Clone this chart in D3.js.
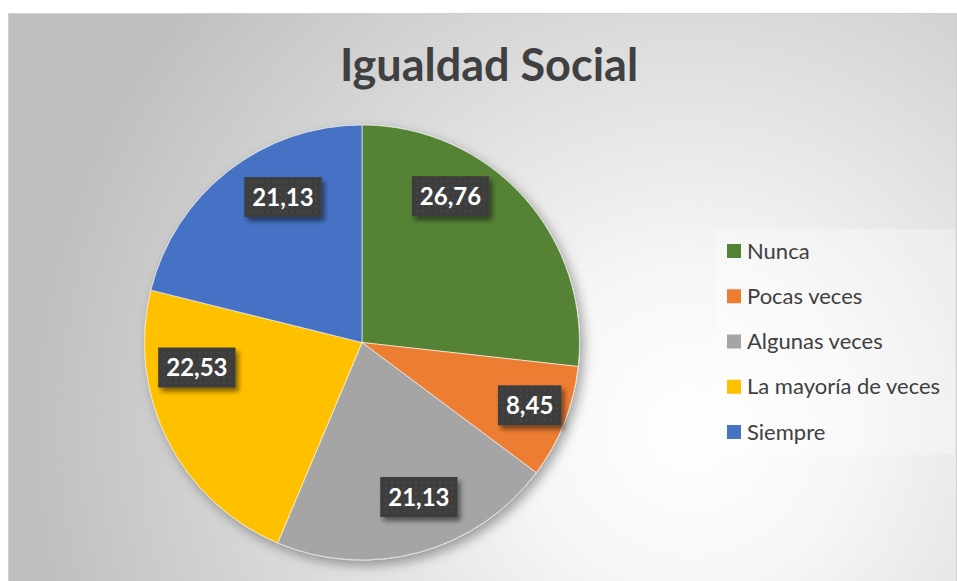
<!DOCTYPE html>
<html><head><meta charset="utf-8">
<script src="https://cdn.jsdelivr.net/npm/d3@7"></script>
<style>html,body{margin:0;padding:0;background:#fff;}svg{display:block;}</style>
</head><body>
<script>
const categories = ["Nunca", "Pocas veces", "Algunas veces", "La mayoría de veces", "Siempre"];
const values = [26.76, 8.45, 21.13, 22.53, 21.13];
const labels = ["26,76", "8,45", "21,13", "22,53", "21,13"];
const colors = ["#548235", "#ED7D31", "#A5A5A5", "#FFC000", "#4472C4"];
const title = "Igualdad Social";

const W = 957, H = 581;
const svg = d3.select("body").append("svg").attr("width", W).attr("height", H);
const defs = svg.append("defs");

const bg = defs.append("radialGradient").attr("id", "bg")
  .attr("gradientUnits", "userSpaceOnUse").attr("cx", 690).attr("cy", 430).attr("r", 660);
bg.append("stop").attr("offset", "0").attr("stop-color", "#ffffff");
bg.append("stop").attr("offset", "0.25").attr("stop-color", "#f6f6f6");
bg.append("stop").attr("offset", "1").attr("stop-color", "#bfbfbf");

const shadow = defs.append("filter").attr("id", "shadow").attr("x", "-20%").attr("y", "-20%").attr("width", "150%").attr("height", "150%");
shadow.append("feGaussianBlur").attr("in", "SourceAlpha").attr("stdDeviation", 6);
shadow.append("feOffset").attr("dx", 4).attr("dy", 5).attr("result", "b");
shadow.append("feComponentTransfer").append("feFuncA").attr("type", "linear").attr("slope", 0.35);
const m = shadow.append("feMerge"); m.append("feMergeNode"); m.append("feMergeNode").attr("in", "SourceGraphic");

const lshadow = defs.append("filter").attr("id", "lshadow").attr("x", "-20%").attr("y", "-20%").attr("width", "150%").attr("height", "160%");
lshadow.append("feGaussianBlur").attr("in", "SourceAlpha").attr("stdDeviation", 2.5);
lshadow.append("feOffset").attr("dx", 3).attr("dy", 4).attr("result", "b");
lshadow.append("feComponentTransfer").append("feFuncA").attr("type", "linear").attr("slope", 0.5);
const m2 = lshadow.append("feMerge"); m2.append("feMergeNode"); m2.append("feMergeNode").attr("in", "SourceGraphic");

const pat = defs.append("pattern").attr("id", "dots").attr("patternUnits", "userSpaceOnUse").attr("width", 6).attr("height", 6);
pat.append("rect").attr("width", 6).attr("height", 6).attr("fill", "#3c3c3c");
pat.append("circle").attr("cx", 3).attr("cy", 3).attr("r", 0.9).attr("fill", "#505050");

// chart area
svg.append("rect").attr("x", 8.5).attr("y", 13.5).attr("width", W - 9).attr("height", H - 13)
  .attr("fill", "url(#bg)").attr("stroke", "#d0d0d0").attr("stroke-width", 1);

svg.append("text").attr("x", 489).attr("y", 81).attr("text-anchor", "middle")
  .attr("font-family", "Lato, 'Open Sans', sans-serif").attr("font-weight", "bold").attr("font-size", 45)
  .attr("fill", "#404040").text(title);

const cx = 362, cy = 342.5, R = 217.5;
const pie = d3.pie().sort(null).value(d => d)(values);
const arc = d3.arc().innerRadius(0).outerRadius(R);

const g = svg.append("g").attr("transform", `translate(${cx},${cy})`);
g.append("g").attr("filter", "url(#shadow)")
  .selectAll("path").data(pie).join("path")
  .attr("d", arc).attr("fill", (d, i) => colors[i])
  .attr("stroke", "rgba(255,255,255,0.6)").attr("stroke-width", 1);

// label placement (Excel best-fit style): angular shift (deg) and radius fraction
const labelShift = [-17, -1, -5, 18, 9.5];
const labelRad = [0.786, 0.823, 0.757, 0.768, 0.761];
pie.forEach((d, i) => {
  const a = (d.startAngle + d.endAngle) / 2 + labelShift[i] * Math.PI / 180;
  const r = R * labelRad[i];
  const x = Math.sin(a) * r, y = -Math.cos(a) * r;
  const lg = g.append("g").attr("transform", `translate(${x},${y})`);
  const t = lg.append("text").attr("text-anchor", "middle").attr("dy", "0.36em")
    .attr("font-family", "Lato, 'Open Sans', sans-serif").attr("font-weight", "bold").attr("font-size", 24)
    .attr("fill", "#ffffff").text(labels[i]);
  const bb = t.node().getBBox();
  lg.insert("rect", "text").attr("x", bb.x - 8).attr("y", -20).attr("width", bb.width + 16).attr("height", 40)
    .attr("fill", "url(#dots)").attr("filter", "url(#lshadow)");
});

// legend
const lgX = 715, lgY = 229;
svg.append("rect").attr("x", lgX).attr("y", lgY).attr("width", 240).attr("height", 226)
  .attr("fill", "rgba(255,255,255,0.3)");
const rowY = d3.scalePoint().domain(categories).range([251, 432]);
const leg = svg.append("g").selectAll("g").data(categories).join("g")
  .attr("transform", d => `translate(727,${rowY(d)})`);
leg.append("rect").attr("x", 0).attr("y", -7).attr("width", 14).attr("height", 14)
  .attr("fill", (d, i) => colors[i]);
leg.append("text").attr("x", 20).attr("dy", "0.35em")
  .attr("font-family", "Lato, 'Open Sans', sans-serif").attr("font-size", 22)
  .attr("fill", "#404040").text(d => d);
</script>
</body></html>
